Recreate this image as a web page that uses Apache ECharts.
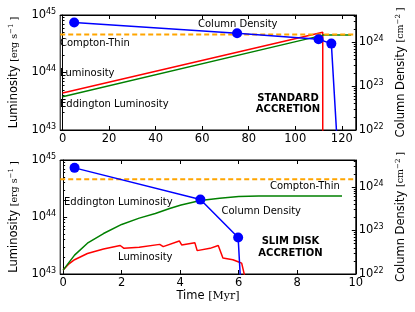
<!DOCTYPE html>
<html><head><meta charset="utf-8">
<script src="https://cdn.jsdelivr.net/npm/echarts@6/dist/echarts.min.js"></script>
<style>html,body{margin:0;padding:0;background:#fff}#c{width:415px;height:312px}</style>
</head><body><div id="c"></div>
<script>
// ---------- DATA ----------
// Standard accretion (top panel), time in Myr
const stdLumTime = [0, 111.8, 111.8];
const stdLum = [4.4e43, 5.0e44, 1e40];
const stdEddTime = [0, 112, 124];
const stdEdd = [3.8e43, 4.47e44, 4.47e44];
const stdNhTime = [5, 75, 110, 115.5, 118.8];
const stdNh = [2.82e24, 1.6e24, 1.17e24, 9.3e23, 1e21];
// Slim disk accretion (bottom panel)
const slimLumTime = [0, 0.2, 0.39, 0.83, 1.38, 1.95, 2.0, 2.08, 2.6, 3.3, 3.35, 3.42, 3.97, 4.05, 4.5, 4.58, 5.02, 5.3, 5.36, 5.46, 5.8, 6.0, 6.1, 6.28];
const slimLum = [1.17e43, 1.51e43, 1.78e43, 2.29e43, 2.75e43, 3.16e43, 3.31e43, 2.82e43, 2.95e43, 3.31e43, 3.47e43, 3.02e43, 3.8e43, 3.24e43, 3.55e43, 2.57e43, 2.82e43, 3.16e43, 3.16e43, 1.9e43, 1.78e43, 1.62e43, 1.55e43, 6.3e42];
const slimEddTime = [0, 0.39, 0.83, 1.38, 2.0, 2.6, 3.15, 3.64, 4.03, 4.69, 5.35, 6.0, 6.68, 7.5, 9.53];
const slimEdd = [1.17e43, 2.14e43, 3.47e43, 5.13e43, 7.41e43, 9.55e43, 1.15e44, 1.41e44, 1.62e44, 1.95e44, 2.14e44, 2.29e44, 2.34e44, 2.34e44, 2.34e44];
const slimNhTime = [0.39, 4.69, 5.98, 6.13];
const slimNh = [2.75e24, 5.13e23, 6.9e22, 1e21];
const comptonThin = 1.5e24;
// ticks
const stdTimeTicks = [0, 20, 40, 60, 80, 100, 120];
const slimTimeTicks = [0, 2, 4, 6, 8, 10];
const nhTicks = [1e22, 1e23, 1e24];
const lumMinor = [2e43,3e43,4e43,5e43,6e43,7e43,8e43,9e43,2e44,3e44,4e44,5e44,6e44,7e44,8e44,9e44];
const nhMinor = [2e22,3e22,4e22,5e22,6e22,7e22,8e22,9e22,2e23,3e23,4e23,5e23,6e23,7e23,8e23,9e23,2e24,3e24,4e24];

// ---------- CHART ----------
const FONT = 'DejaVu Sans';
const zip = (a, b) => a.map((v, i) => [v, b[i]]);
const supFmt = v => '{b|10}{s|' + Math.round(Math.log10(v)) + '}';
const supRich = { b: { fontSize: 11.5, fontFamily: FONT, color: '#000' }, s: { fontSize: 8, fontFamily: FONT, color: '#000', verticalAlign: 'top', padding: [0, 0, 7, 0] } };
const axLine = { show: true, lineStyle: { color: '#000', width: 1 } };

function xAx(grid, min, max, ticks, top, name) {
  return {
    type: 'value', gridIndex: grid, min, max, position: top ? 'top' : 'bottom',
    axisLine: axLine, splitLine: { show: false },
    axisTick: { show: true, inside: true, length: 4, customValues: ticks, lineStyle: { color: '#000' } },
    axisLabel: { show: !top, customValues: ticks, margin: 3, fontSize: 11.5, fontFamily: FONT, color: '#000', showMinLabel: true, showMaxLabel: true, hideOverlap: false },
    name: name || '', nameLocation: 'middle', nameGap: 14,
    nameTextStyle: { rich: { a: { fontSize: 11.5, fontFamily: FONT, color: '#000' }, m: { fontSize: 11, fontFamily: 'DejaVu Serif', color: '#000' } } }
  };
}
const nameRich = { a: { fontSize: 11.5, fontFamily: FONT, color: '#000' }, b: { fontSize: 9.5, fontFamily: 'DejaVu Serif', color: '#000' }, c: { fontSize: 7, fontFamily: 'DejaVu Serif', color: '#000', verticalAlign: 'top', padding: [0, 0, 6, 0] } };
// left luminosity axis: default decade ticks (10^43,10^44,10^45)
function lumAx(grid, isMinor, name) {
  const ax = {
    type: 'log', logBase: 10, gridIndex: grid, min: 1e43, max: 1e45, splitNumber: 2, position: 'left',
    axisLine: isMinor ? { show: false } : axLine, splitLine: { show: false },
    axisTick: { show: true, inside: true, length: isMinor ? 2 : 4, lineStyle: { color: '#000' } },
    axisLabel: { show: !isMinor, margin: 4, formatter: supFmt, rich: supRich, showMinLabel: true, showMaxLabel: true, hideOverlap: false },
    name: isMinor ? '' : name, nameLocation: 'middle', nameRotate: 90, nameGap: 34, nameTextStyle: { rich: nameRich }
  };
  if (isMinor) ax.axisTick.customValues = lumMinor;
  return ax;
}
function nhAx(grid, isMinor, name) {
  return {
    type: 'log', logBase: 10, gridIndex: grid, min: 1e22, max: 4.17e24, position: 'right',
    axisLine: isMinor ? { show: false } : axLine, splitLine: { show: false },
    axisTick: { show: true, inside: true, length: isMinor ? 2 : 4, customValues: isMinor ? nhMinor : nhTicks, lineStyle: { color: '#000' } },
    axisLabel: { show: !isMinor, customValues: nhTicks, margin: 3, formatter: supFmt, rich: supRich, showMinLabel: true, showMaxLabel: true, hideOverlap: false },
    name: isMinor ? '' : name, nameLocation: 'middle', nameRotate: 90, nameGap: 28, nameTextStyle: { rich: nameRich }
  };
}
const lumName = '{a|Luminosity }{b|[erg s}{c|−1}{b| ]}';
const nhName = '{a|Column Density }{b|[cm}{c|−2}{b| ]}';

function line(x, y, data, color, extra) {
  return Object.assign({ type: 'line', xAxisIndex: x, yAxisIndex: y, data, showSymbol: false, symbol: 'none', animation: false, clip: true,
    lineStyle: { color, width: 1.5 }, itemStyle: { color } }, extra || {});
}
function nhData(t, v) {
  return t.map((ti, i) => (i === t.length - 1 ? { value: [ti, v[i]], symbol: 'none' } : [ti, v[i]]));
}
const dashed = { lineStyle: { color: '#ffa500', width: 2, type: [5, 3] } };
const dots = { symbol: 'circle', showSymbol: true, symbolSize: 10 };

function txt(text, x, y, opts) {
  return { type: 'text', x, y, silent: true, style: Object.assign({ text, fill: '#000', font: '10px "DejaVu Sans"', textAlign: 'left', textVerticalAlign: 'middle' }, opts || {}) };
}
const boldC = { font: 'bold 10px "DejaVu Sans"', textAlign: 'center' };

const chart = echarts.init(document.getElementById('c'), null, { renderer: 'canvas', width: 415, height: 312 });
chart.setOption({
  backgroundColor: '#fff',
  animation: false,
  grid: [
    { left: 55, top: 15, width: 306, height: 115, show: true, borderColor: '#000', borderWidth: 1, backgroundColor: 'transparent' },
    { left: 55, top: 160, width: 306, height: 114, show: true, borderColor: '#000', borderWidth: 1, backgroundColor: 'transparent' }
  ],
  xAxis: [
    xAx(0, -1, 126, stdTimeTicks, false),
    xAx(0, -1, 126, stdTimeTicks, true),
    xAx(1, -0.1, 10, slimTimeTicks, false, '{a|Time }{m|[Myr]}'),
    xAx(1, -0.1, 10, slimTimeTicks, true)
  ],
  yAxis: [
    lumAx(0, false, lumName),
    lumAx(0, true),
    nhAx(0, false, nhName),
    nhAx(0, true),
    lumAx(1, false, lumName),
    lumAx(1, true),
    nhAx(1, false, nhName),
    nhAx(1, true)
  ],
  series: [
    line(0, 0, zip(stdLumTime, stdLum), '#ff0000'),
    line(0, 0, zip(stdEddTime, stdEdd), '#008000'),
    line(0, 2, [[-1, comptonThin], [126, comptonThin]], '#ffa500', dashed),
    line(0, 2, nhData(stdNhTime, stdNh), '#0000ff', dots),
    line(2, 4, zip(slimLumTime, slimLum), '#ff0000'),
    line(2, 4, zip(slimEddTime, slimEdd), '#008000'),
    line(2, 6, [[-0.1, comptonThin], [10, comptonThin]], '#ffa500', dashed),
    line(2, 6, nhData(slimNhTime, slimNh), '#0000ff', dots)
  ],
  graphic: [
    txt('Column Density', 198, 24),
    txt('Compton-Thin', 60, 43),
    txt('Luminosity', 60, 73),
    txt('Eddington Luminosity', 60, 104),
    txt('STANDARD', 288, 98, boldC),
    txt('ACCRETION', 288, 109, boldC),
    txt('Eddington Luminosity', 64, 202),
    txt('Compton-Thin', 270, 186.5),
    txt('Column Density', 221.5, 211),
    txt('Luminosity', 118, 257),
    txt('SLIM DISK', 290.5, 241.5, boldC),
    txt('ACCRETION', 290.5, 253, boldC)
  ]
});
</script></body></html>
